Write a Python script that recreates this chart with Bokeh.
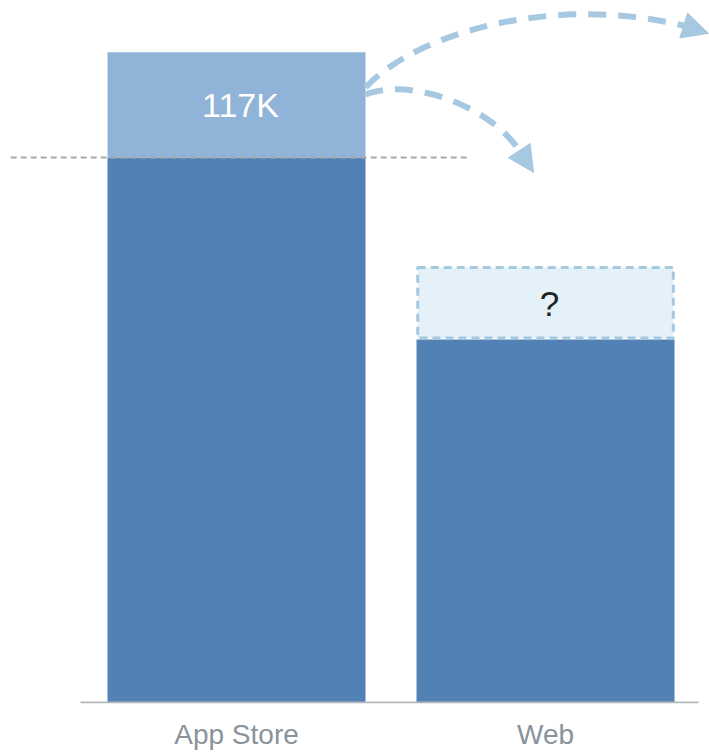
from bokeh.plotting import figure
from bokeh.models import ColumnDataSource, Range1d, FixedTicker, Arrow, NormalHead
from bokeh.core.properties import value
from bokeh.embed import file_html
from bokeh.resources import INLINE

# ---- data ----
categories = ["App Store", "Web"]
base_values = [607.3, 404.5]          # solid bars (K)
app_store_extra = 117.0               # lighter top segment of App Store (K)
app_store_label = "117K"
web_unknown = 80.2                    # dashed "unknown" box over Web (K)
web_label = "?"

# ---- style ----
DARK = "#5282b5"
LIGHT = "#8fb4d8"
ARROW = "#a6c8e0"
BOX_FILL = "#e4f1f8"
GREY = "#a9a9a9"
AXIS = "#b3b7bb"
LABEL = "#8a939c"
FONT = "Liberation Sans"
BAR_W = 0.835

xs = list(range(len(categories)))

p = figure(width=709, height=752, output_backend="svg", toolbar_location=None,
           x_range=Range1d(-0.7638, 1.5307), y_range=Range1d(-1.2, 782.1),
           min_border_left=0, min_border_right=0, min_border_top=0, min_border_bottom=49)
p.outline_line_color = None
p.grid.visible = False
p.yaxis.visible = False
p.background_fill_color = "white"
p.border_fill_color = "white"

# solid bars
src = ColumnDataSource(dict(x=xs, top=base_values))
p.vbar(x="x", top="top", bottom=0, width=BAR_W, source=src, fill_color=DARK, line_color=None)

# App Store lighter top segment
app_top = base_values[0] + app_store_extra
p.vbar(x=[xs[0]], bottom=[base_values[0]], top=[app_top], width=BAR_W,
       fill_color=LIGHT, line_color=None)
p.text(x=[xs[0]], y=[(base_values[0] + app_top) / 2], text=[app_store_label],
       text_color="white", text_font=value(FONT), text_font_size="34px",
       text_align="center", text_baseline="middle", x_offset=4)

# Web dashed unknown box
web_top = base_values[1] + web_unknown
p.quad(left=[xs[1] - BAR_W / 2 + 0.004], right=[xs[1] + BAR_W / 2 - 0.004],
       bottom=[base_values[1] + 1.5], top=[web_top],
       fill_color=BOX_FILL, line_color=ARROW, line_width=3, line_dash="8 5")
p.text(x=[xs[1]], y=[(base_values[1] + web_top) / 2], text=[web_label],
       text_color="#222222", text_font=value(FONT), text_font_size="35px",
       text_align="center", text_baseline="middle", x_offset=4)

# grey dashed reference line at App Store base level
p.segment(x0=[-0.731], x1=[0.745], y0=[base_values[0]], y1=[base_values[0]],
          line_color=GREY, line_width=2, line_dash="6 4")

# baseline
p.segment(x0=[-0.505], x1=[1.495], y0=[0], y1=[0], line_color=AXIS, line_width=2)

# curved dashed arrows (annotation geometry)
start_x = xs[0] + BAR_W / 2
up = dict(x0=start_x, y0=685.3, cx0=0.5955, cy0=749.9, cx1=1.0485, cy1=788.9, x1=1.456, y1=753.3,
          tipx=1.5275, tipy=745.5)
down = dict(x0=start_x, y0=677.5, cx0=0.563, cy0=696.4, cx1=0.8155, cy1=665.2, x1=0.9126, y1=616.2,
            tipx=0.9612, tipy=590.6)
for a in (up, down):
    p.bezier(x0=[a["x0"]], y0=[a["y0"]], x1=[a["x1"]], y1=[a["y1"]],
             cx0=[a["cx0"]], cy0=[a["cy0"]], cx1=[a["cx1"]], cy1=[a["cy1"]],
             line_color=ARROW, line_width=6, line_dash="18 12")
    p.add_layout(Arrow(x_start=a["x1"], y_start=a["y1"], x_end=a["tipx"], y_end=a["tipy"],
                       line_alpha=0, line_width=0,
                       end=NormalHead(size=26, fill_color=ARROW, line_color=ARROW, line_width=1)))

# x axis labels
p.xaxis.ticker = FixedTicker(ticks=xs)
p.xaxis.major_label_overrides = {i: c for i, c in zip(xs, categories)}
p.xaxis.axis_line_color = None
p.xaxis.major_tick_line_color = None
p.xaxis.minor_tick_line_color = None
p.xaxis.major_label_text_font = FONT
p.xaxis.major_label_text_font_size = "28px"
p.xaxis.major_label_text_color = LABEL
p.xaxis.major_label_standoff = 9

open("out.html", "w").write(file_html(p, INLINE))
